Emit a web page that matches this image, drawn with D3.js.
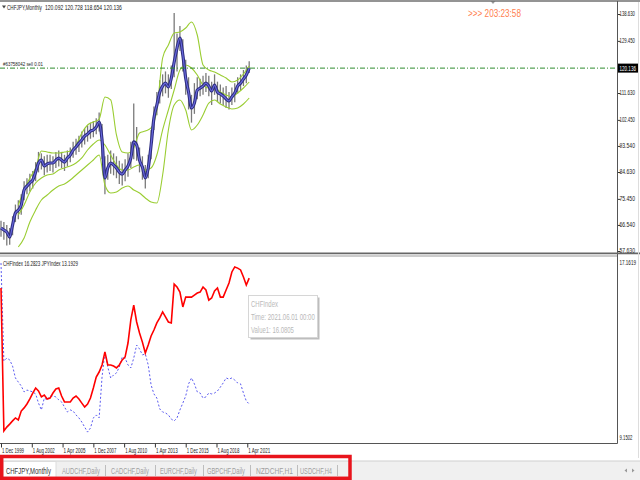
<!DOCTYPE html>
<html><head><meta charset="utf-8">
<script src="https://cdn.jsdelivr.net/npm/d3@7"></script>
<style>body{margin:0;background:#fff;}svg{display:block;font-family:"Liberation Sans",Arial,sans-serif;}</style>
</head><body><svg id="c" width="640" height="480"></svg>
<script>
// ---------- DATA ----------
const symbolTitle = "CHFJPY,Monthly";
const ohlcText = "120.092 120.728 118.654 120.136";
const orderText = "#63758042 sell 0.01";
const countdownText = ">>> 203:23:58";
const currentPrice = 120.136;
const startDate = new Date(1999, 11, 1);
const stepMonths = 3;
// thick moving-average line (price, quarterly samples)
const maLine = [65.5,64.8,64.1,62.4,66.5,70.6,71.6,73.3,78.5,79.8,80.9,81.9,84.6,87.7,88.7,86.7,87.4,87.7,87.7,88.7,89.4,88.7,88.0,89.4,90.4,92.1,93.2,94.5,95.6,96.9,97.6,98.6,99.0,100.0,101.7,95.6,82.6,86.0,87.7,87.0,86.0,84.6,83.9,85.3,86.7,89.4,94.9,93.8,88.7,86.3,82.6,86.0,93.8,103.1,107.5,111.9,114.0,115.0,113.7,116.7,122.2,127.0,130.4,124.6,116.7,111.9,106.5,108.2,112.6,113.3,114.0,115.0,114.0,112.3,114.3,111.9,111.3,110.6,109.6,108.9,110.3,111.6,114.0,115.0,116.4,117.8,120.1];
const highs = [68.0,67.5,66.5,65.5,69.5,73.5,75.0,77.0,81.5,82.5,84.0,85.0,88.0,91.5,91.0,90.0,90.5,90.5,90.0,91.5,92.0,91.5,90.5,92.0,93.0,95.0,96.0,97.0,98.5,99.5,100.5,101.5,102.0,103.0,105.0,101.0,90.0,90.5,92.0,91.0,90.0,88.5,87.5,89.0,91.0,95.0,108.0,100.0,93.0,90.0,87.0,90.5,99.0,107.0,112.0,116.0,118.0,119.0,118.0,121.0,139.0,132.0,134.5,130.0,123.0,117.0,111.0,115.0,117.0,116.5,117.5,118.5,117.5,115.5,118.0,115.5,114.5,113.5,114.0,112.0,113.5,115.0,117.0,118.0,119.5,121.0,122.5];
const lows = [62.5,61.5,59.5,59.8,63.0,67.5,68.5,70.0,75.0,77.0,78.0,79.0,81.5,84.5,85.5,83.5,84.5,85.0,84.5,86.0,86.5,86.0,85.0,86.5,88.0,89.5,90.5,91.5,93.0,94.0,95.0,96.0,96.5,97.5,98.5,89.0,77.0,82.0,84.0,83.5,82.5,80.5,80.0,81.5,83.0,86.0,89.0,88.5,84.5,82.0,79.0,82.5,89.0,99.0,104.0,108.0,110.5,111.5,110.0,113.0,117.0,119.0,126.0,119.0,111.0,106.0,101.5,104.5,109.5,110.5,111.0,112.0,110.5,107.5,111.0,108.5,108.0,107.5,106.5,106.0,107.5,108.5,111.5,112.5,114.0,115.0,118.5];
// bands (half-year samples starting 18 months after start)
const bandStartMonth = 18, bandStepMonths = 6;
const bandUpper = [73.35,78.48,82.58,86.0,91.81,91.47,91.13,91.13,91.47,91.81,93.86,97.96,100.69,101.72,102.74,110.26,109.24,97.28,91.47,91.13,92.83,97.96,98.64,99.67,105.82,123.59,128.04,132.14,132.48,133.85,135.90,131.45,121.2,119.49,118.81,117.78,116.76,115.39,116.07,118.12,120.86];
const bandMiddle = [69.94,73.35,77.8,80.87,82.58,83.61,83.95,85.31,86.0,86.68,87.71,89.42,92.15,94.2,95.57,93.86,90.44,87.02,85.31,85.31,86.34,87.02,85.31,86.0,90.44,98.99,105.82,112.66,119.49,121.2,120.17,117.78,114.36,113.34,113.34,111.97,110.95,110.26,111.63,113.34,115.39];
const bandLower = [59.0,62.07,67.54,71.64,75.06,76.77,78.48,79.85,80.53,81.9,83.61,85.31,87.02,88.73,90.44,80.19,77.45,77.8,79.16,79.85,78.48,77.45,75.75,74.38,74.04,83.61,98.99,107.53,109.24,105.82,98.99,100.69,104.11,108.21,109.24,107.87,106.85,106.16,106.5,107.87,109.92];
// lower window
const chfIndex = [15.85,9.59,9.76,9.89,10.03,10.16,10.07,10.46,10.60,10.77,10.99,11.25,11.47,11.34,11.08,11.16,10.99,11.03,11.25,11.43,11.47,11.12,10.86,10.86,10.86,11.03,11.12,10.99,10.81,10.64,10.77,11.03,11.47,11.95,12.17,12.48,13.05,12.48,12.48,12.43,12.35,12.48,12.70,12.83,13.44,14.45,15.10,14.36,13.88,13.48,13.00,13.35,13.75,14.01,14.32,14.54,14.80,14.58,14.36,14.32,16.02,15.89,15.67,15.02,15.45,15.45,15.45,15.54,15.63,15.67,15.89,15.76,15.32,15.41,15.72,15.85,15.45,15.45,15.76,16.07,16.55,16.77,16.72,16.64,16.33,15.98,16.28];
const jpyIndex = [16.94,12.65,12.78,12.70,12.43,11.91,11.73,11.56,11.30,11.38,11.34,11.30,11.21,10.81,10.51,11.03,10.95,11.12,11.12,11.08,10.95,10.86,10.64,10.42,10.51,10.46,10.29,10.16,9.98,9.76,9.54,9.72,10.16,10.29,10.16,11.95,13.05,12.39,11.91,12.04,12.13,12.39,12.83,12.78,12.48,12.35,12.78,13.35,13.18,12.92,12.96,12.48,11.60,11.21,11.03,10.55,10.42,10.38,10.29,10.11,10.03,10.16,10.51,10.81,11.12,11.65,11.91,11.65,11.30,11.25,11.03,11.08,11.25,11.21,11.25,11.34,11.51,11.69,11.91,11.86,11.91,11.82,11.69,11.65,11.25,10.90,10.77];
const indexHeader = "CHFIndex 16.2823  JPYIndex 13.1929";
const priceTicks = [138.630,129.450,111.630,102.450,93.540,84.630,75.450,66.540,57.630];
const indexTicks = [17.1619, 9.1502];
const timeTickDates = ["1999-12-01","2002-08-01","2005-04-01","2007-12-01","2010-08-01","2013-04-01","2015-12-01","2018-08-01","2021-04-01"];
const timeTickLabels = ["1 Dec 1999","1 Aug 2002","1 Apr 2005","1 Dec 2007","1 Aug 2010","1 Apr 2013","1 Dec 2015","1 Aug 2018","1 Apr 2021"];
const tooltipLines = ["CHFIndex","Time: 2021.06.01 00:00","Value1: 16.0805"];
const tabs = ["CHFJPY,Monthly","AUDCHF,Daily","CADCHF,Daily","EURCHF,Daily","GBPCHF,Daily","NZDCHF,H1","USDCHF,H4"];

// ---------- SETUP ----------
const svg = d3.select("#c");
const axisX = 617;
const mdate = (m) => d3.timeMonth.offset(startDate, m);
const x = d3.scaleTime().domain([startDate, new Date(2021,5,1)]).range([1, 249.2]);
const yTop = d3.scaleLinear().domain([57.63, 138.63]).range([251, 14]);
const yBot = d3.scaleLinear().domain([9.1502, 17.1619]).range([441, 258]);

// narrow text: draw at natural size, then compress horizontally to target width
function label(parent, tx, ty, str, size, fill, width) {
  const g = parent.append("g");
  const t = g.append("text").attr("x",0).attr("y",0).attr("font-size",size).attr("fill",fill).text(str);
  const w = t.node().getComputedTextLength();
  const sx = width / w;
  g.attr("transform", `translate(${tx},${ty}) scale(${sx},1)`);
  return g;
}

svg.append("rect").attr("width",640).attr("height",480).attr("fill","#fff");
const defs = svg.append("defs");
defs.append("clipPath").attr("id","ct").append("rect").attr("x",0).attr("y",3).attr("width",axisX).attr("height",249);
defs.append("clipPath").attr("id","cb").append("rect").attr("x",0).attr("y",256.5).attr("width",axisX).attr("height",186.5);

// ---------- TOP PANE ----------
const topG = svg.append("g").attr("clip-path","url(#ct)");
const q = maLine.map((v,i)=>({d: mdate(i*stepMonths), ma: v, hi: highs[i], lo: lows[i]}));
topG.selectAll("line.bar").data(q).join("line").attr("class","bar")
  .attr("x1",d=>x(d.d)).attr("x2",d=>x(d.d)).attr("y1",d=>yTop(d.hi)).attr("y2",d=>yTop(d.lo))
  .attr("stroke","#7a7a7a").attr("stroke-width",1.3);
const bandLine = d3.line().x(d=>x(d.d)).y(d=>yTop(d.v)).curve(d3.curveMonotoneX);
[bandUpper, bandMiddle, bandLower].forEach(arr => {
  const pts = arr.map((v,i)=>({d: mdate(bandStartMonth + i*bandStepMonths), v}));
  topG.append("path").attr("d", bandLine(pts)).attr("fill","none").attr("stroke","#9acd32").attr("stroke-width",1.1);
});
const maGen = d3.line().x(d=>x(d.d)).y(d=>yTop(d.ma)).curve(d3.curveMonotoneX);
topG.append("path").attr("d", maGen(q)).attr("fill","none").attr("stroke","#2e2e80").attr("stroke-width",3.2);
topG.append("path").attr("d", maGen(q)).attr("fill","none").attr("stroke","#6a6ae0").attr("stroke-width",1.1);
// current order line
svg.append("line").attr("x1",0).attr("x2",axisX).attr("y1",yTop(currentPrice)).attr("y2",yTop(currentPrice))
  .attr("stroke","#2e8b2e").attr("stroke-width",1).attr("stroke-dasharray","5,2,1,2");
label(svg, 3, 66, orderText, 6, "#222", 40);

// header
svg.append("path").attr("d","M2,5.5L6,5.5L4,8.5Z").attr("fill","#444");
label(svg, 7, 10, symbolTitle, 7, "#222", 35);
label(svg, 45, 10, ohlcText.split(" ").join("  "), 7, "#222", 77);
label(svg, 468, 16.5, countdownText, 11, "#ff7f50", 53);
svg.append("path").attr("d","M490.5,1L495.5,1L493,4Z").attr("fill","#999");

// right price axis
const ax = svg.append("g").attr("transform",`translate(${axisX+0.5},0)`)
  .call(d3.axisRight(yTop).tickValues(priceTicks).tickSize(3).tickFormat(""));
ax.select(".domain").remove();
ax.selectAll(".tick line").attr("stroke","#333");
priceTicks.forEach(v => label(svg, 619.5, yTop(v)+2.3, d3.format(".3f")(v), 6.5, "#222", 15.5));
svg.append("rect").attr("x",618).attr("y",yTop(currentPrice)-4.5).attr("width",20).attr("height",9).attr("fill","#000");
label(svg, 619.5, yTop(currentPrice)+2.4, d3.format(".3f")(currentPrice), 6.5, "#fff", 16.5);

// ---------- BOTTOM PANE ----------
const botG = svg.append("g").attr("clip-path","url(#cb)");
const idx = chfIndex.map((v,i)=>({d: mdate(i*stepMonths), c: v, j: jpyIndex[i]}));
botG.append("path").attr("d", d3.line().x(d=>x(d.d)).y(d=>yBot(d.j))(idx)).attr("fill","none")
  .attr("stroke","#5a5af0").attr("stroke-width",1).attr("stroke-dasharray","2,2");
botG.append("path").attr("d", d3.line().x(d=>x(d.d)).y(d=>yBot(d.c))(idx)).attr("fill","none")
  .attr("stroke","#ff0000").attr("stroke-width",1.6);
label(svg, 3, 266, indexHeader, 6.5, "#222", 75);
indexTicks.forEach((v,i) => label(svg, 619.5, i===0 ? yBot(v)+6.5 : yBot(v)-1, d3.format(".4f")(v), 6.5, "#222", i===0?16.5:13));

// tooltip
const tt = svg.append("g");
tt.append("rect").attr("x",250.5).attr("y",297.5).attr("width",69).attr("height",42).attr("fill","#bdbdbd");
tt.append("rect").attr("x",248.5).attr("y",295.5).attr("width",69).attr("height",42).attr("fill","#fff").attr("stroke","#d6d6d6");
const ttW = [27,64,43];
tooltipLines.forEach((s,i) => label(tt, 251, 306.5+i*13.3, s, 8.5, "#b9b9b9", ttW[i]));

// ---------- FRAMES ----------
svg.append("line").attr("x1",0).attr("x2",640).attr("y1",1).attr("y2",1).attr("stroke","#707070").attr("stroke-width",1.5);
svg.append("line").attr("x1",axisX+0.5).attr("x2",axisX+0.5).attr("y1",1).attr("y2",443.5).attr("stroke","#555");
svg.append("line").attr("x1",0).attr("x2",640).attr("y1",253.3).attr("y2",253.3).attr("stroke","#666").attr("stroke-width",1.8);
svg.append("line").attr("x1",0).attr("x2",axisX).attr("y1",256).attr("y2",256).attr("stroke","#999").attr("stroke-width",1);
svg.append("line").attr("x1",0).attr("x2",axisX+0.5).attr("y1",443.5).attr("y2",443.5).attr("stroke","#555");
svg.append("line").attr("x1",638.5).attr("x2",638.5).attr("y1",2).attr("y2",458).attr("stroke","#ddd");

// time axis
const tdates = timeTickDates.map(s => { const p = s.split("-"); return new Date(+p[0], +p[1]-1, 1); });
const tx = svg.append("g").attr("transform","translate(0,443.5)")
  .call(d3.axisBottom(x).tickValues(tdates).tickSize(4).tickFormat(""));
tx.select(".domain").remove();
tx.selectAll(".tick line").attr("stroke","#333");
tdates.forEach((d,i) => label(svg, x(d)+1, 452.5, timeTickLabels[i], 6.5, "#222", 22));

// ---------- TABS ----------
svg.append("rect").attr("x",0).attr("y",461).attr("width",640).attr("height",19).attr("fill","#f0f0f0");
svg.append("line").attr("x1",0).attr("x2",640).attr("y1",461).attr("y2",461).attr("stroke","#cfcfcf");
svg.append("rect").attr("x",3).attr("y",461.5).attr("width",53).attr("height",16).attr("fill","#fff").attr("stroke","#dcdcdc");
const tabX = [6,62,111,160,207,256,300], tabW = [45,38,38,37,38,37,32];
tabs.forEach((s,i) => label(svg, tabX[i], 473.5, s, 8.5, i===0 ? "#333" : "#a0a0a0", tabW[i]));
[105,155,203,250,297,337].forEach(sx => svg.append("line").attr("x1",sx+0.5).attr("x2",sx+0.5).attr("y1",465).attr("y2",476).attr("stroke","#bdbdbd"));
svg.append("path").attr("d","M627,468.5L624.5,470.5L627,472.5Z").attr("fill","#999");
svg.append("path").attr("d","M632,468.5L634.5,470.5L632,472.5Z").attr("fill","#999");
svg.append("rect").attr("x",1.7).attr("y",456.5).attr("width",348.3).attr("height",21.8).attr("fill","none").attr("stroke","#e8141c").attr("stroke-width",3.5);
</script></body></html>
